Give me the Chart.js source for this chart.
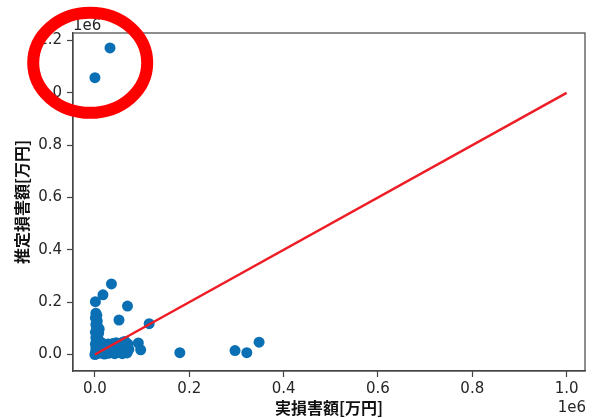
<!DOCTYPE html>
<html>
<head>
<meta charset="utf-8">
<script src="https://cdn.jsdelivr.net/npm/chart.js@4/dist/chart.umd.min.js"></script>
<style>
  html, body { margin: 0; padding: 0; background: #fff; }
  #wrap { width: 593px; height: 418px; }
</style>
</head>
<body>
<div id="wrap"><canvas id="c" width="593" height="418"></canvas></div>
<script>
// Actual vs. estimated damage, in 万円
const actualDamage = [
  2000, 4000, 1000, 5000, 2000, 6000, 9000, 3000, 8000, 1000, 5000, 2000, 7000, 3000, 1000, 6000, 2000, 4000, 1000, 3000, 0,
  10000, 12000, 15000, 18000, 20000, 22000, 25000, 28000, 30000, 33000, 36000, 40000, 42000, 45000, 48000,
  50000, 53000, 55000, 58000, 60000, 62000, 65000, 68000, 70000,
  14000, 24000, 32000, 38000, 46000, 56000, 64000, 72000, 8000, 27000, 43000,
  92000, 97000, 115000, 180000, 297000, 322000, 348000,
  35000, 17000, 1000, 69000, 51000,
  32000, 0
];
const estimatedDamage = [
  158000, 150000, 140000, 128000, 115000, 105000, 98000, 95000, 82000, 85000, 75000, 65000, 58000, 50000, 40000, 35000, 25000, 15000, 8000, 3000, 0,
  5000, 20000, 35000, 10000, 2000, 28000, 15000, 40000, 5000, 22000, 12000, 30000, 3000, 45000, 18000,
  8000, 35000, 25000, 3000, 48000, 15000, 30000, 6000, 40000,
  45000, 4000, 10000, 42000, 28000, 12000, 50000, 20000, 12000, 24000, 8000,
  44000, 18000, 118000, 7000, 15000, 7000, 47000,
  270000, 228000, 202000, 185000, 132000,
  1172000, 1058000
];

// Reference line y = x
const refLineX = [0, 1000000];
const refLineY = [0, 1000000];

// Axis ticks
const xTickValues = [0, 200000, 400000, 600000, 800000, 1000000];
const yTickValues = [0, 200000, 400000, 600000, 800000, 1000000, 1200000];
const xAxisTitle = '実損害額[万円]';
const yAxisTitle = '推定損害額[万円]';
const offsetLabel = '1e6';

const tickFont = { family: '"DejaVu Sans", sans-serif', size: 15 };
const titleFont = { family: '"Noto Sans CJK JP", sans-serif', size: 16, weight: 'bold' };
const inkColor = '#262626';
const spineColor = '#444';

// Frame on all four sides plus the exponent labels and the highlight ring
const decorPlugin = {
  id: 'decor',
  afterDraw(chart) {
    const { ctx, chartArea, scales } = chart;
    ctx.save();
    ctx.strokeStyle = spineColor;
    ctx.lineWidth = 1.2;
    ctx.strokeRect(chartArea.left, chartArea.top, chartArea.right - chartArea.left, chartArea.bottom - chartArea.top);

    ctx.fillStyle = inkColor;
    ctx.font = '15px "DejaVu Sans", sans-serif';
    ctx.textBaseline = 'alphabetic';
    ctx.textAlign = 'left';
    ctx.fillText(offsetLabel, chartArea.left, chartArea.top - 3);
    ctx.textAlign = 'right';
    ctx.fillText(offsetLabel, chartArea.right + 1, 412);

    // ring around the two outliers
    const cx = scales.x.getPixelForValue(-10000);
    const cy = scales.y.getPixelForValue(1115000);
    ctx.beginPath();
    ctx.ellipse(cx, cy, 57, 50, 0, 0, Math.PI * 2);
    ctx.strokeStyle = '#ff0000';
    ctx.lineWidth = 12;
    ctx.stroke();
    ctx.restore();
  }
};

new Chart(document.getElementById('c'), {
  type: 'scatter',
  data: {
    datasets: [
      {
        type: 'scatter',
        order: 1,
        data: actualDamage.map((x, i) => ({ x, y: estimatedDamage[i] })),
        backgroundColor: '#0b6fb3',
        borderColor: '#0b6fb3',
        pointRadius: 5.5,
        pointBorderWidth: 0
      },
      {
        type: 'line',
        order: 0,
        data: refLineX.map((x, i) => ({ x, y: refLineY[i] })),
        borderColor: '#ee1c25',
        borderWidth: 2.4,
        pointRadius: 0,
        fill: false
      }
    ]
  },
  options: {
    responsive: false,
    animation: false,
    layout: { padding: { top: 33, right: 8, left: 0, bottom: 0 } },
    plugins: { legend: { display: false }, tooltip: { enabled: false } },
    scales: {
      x: {
        type: 'linear',
        min: -46500,
        max: 1039000,
        afterBuildTicks: s => { s.ticks = xTickValues.map(v => ({ value: v })); },
        afterFit: s => { s.height = 47; },
        ticks: {
          callback: v => (v / 1e6).toFixed(1),
          font: tickFont, color: inkColor, padding: 3, maxRotation: 0, autoSkip: false
        },
        grid: { drawOnChartArea: false, drawTicks: true, tickLength: 6, tickColor: spineColor, tickWidth: 1.2 },
        border: { display: true, color: spineColor, width: 1.2 },
        title: { display: true, text: xAxisTitle, font: titleFont, color: '#111', padding: { top: 0, bottom: 0 } }
      },
      y: {
        type: 'linear',
        min: -63000,
        max: 1229000,
        afterBuildTicks: s => { s.ticks = yTickValues.map(v => ({ value: v })); },
        afterFit: s => { s.width = 73; },
        ticks: {
          callback: v => (v / 1e6).toFixed(1),
          font: tickFont, color: inkColor, padding: 5, autoSkip: false
        },
        grid: { drawOnChartArea: false, drawTicks: true, tickLength: 6, tickColor: spineColor, tickWidth: 1.2 },
        border: { display: true, color: spineColor, width: 1.2 },
        title: { display: true, text: yAxisTitle, font: titleFont, color: '#111', padding: { top: 12, bottom: 0 } }
      }
    }
  },
  plugins: [decorPlugin]
});
</script>
</body>
</html>
